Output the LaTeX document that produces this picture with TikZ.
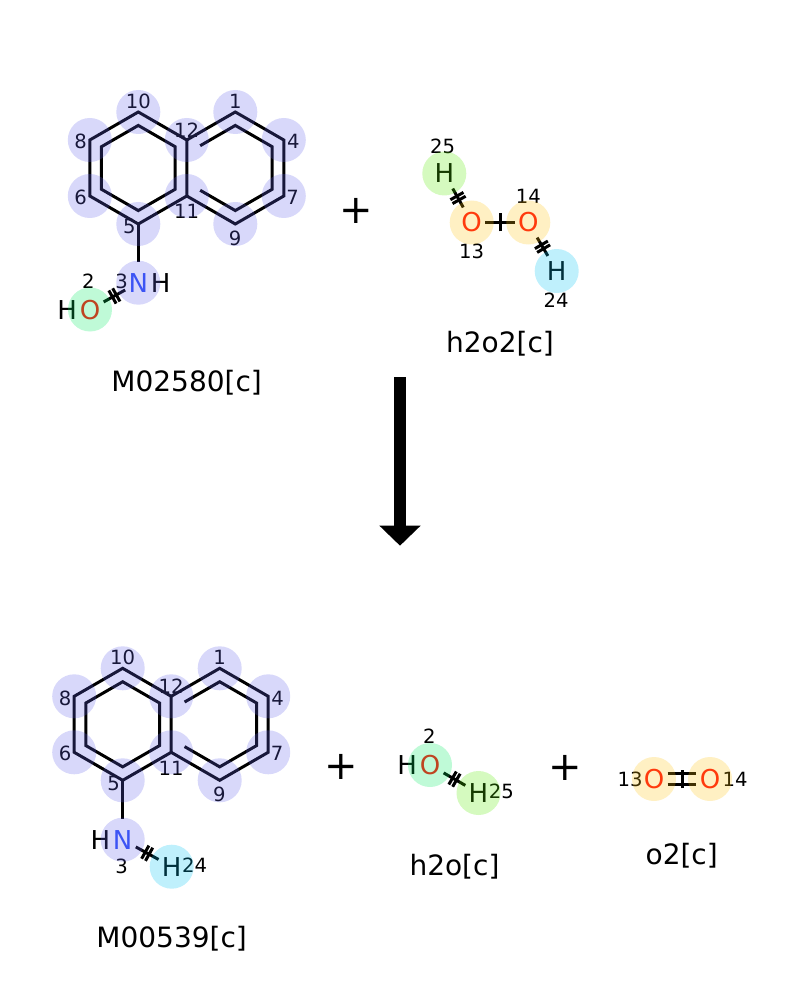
\documentclass[tikz,border=0pt]{standalone}
\usepackage{fontspec}
\setmainfont{DejaVu Sans}
\usetikzlibrary{arrows.meta}
\usetikzlibrary{calc}
\usetikzlibrary{positioning}
\usetikzlibrary{decorations.markings}

\definecolor{ncol}{RGB}{48,80,248}
\definecolor{ocol}{RGB}{255,13,13}
\definecolor{hlc}{RGB}{99,99,235}
\definecolor{hlo}{RGB}{0,235,95}
\definecolor{hlg}{RGB}{87,235,0}
\definecolor{hly}{RGB}{255,195,15}
\definecolor{hlb}{RGB}{0,195,243}

\tikzset{
	bond/.style={line width=1.5pt},
	atom/.style={inner xsep=1.5pt, inner ysep=2.6pt, text height=9.5pt, text depth=0pt, font=\fontsize{13}{13}\selectfont},
	num/.style={inner sep=0pt, text height=7.15pt, text depth=0pt, font=\fontsize{9.8}{9.8}\selectfont},
	cname/.style={inner sep=0pt, text height=10.2pt, text depth=0pt, font=\fontsize{14}{14}\selectfont},
	plussign/.style={inner sep=0pt, text height=14.4pt, text depth=0pt, font=\fontsize{20}{20}\selectfont},
	hl/.style={fill=#1, fill opacity=0.25},
	ticks/.style={postaction={decorate}, decoration={markings, mark=at position 0.5 with {\draw[line width=1.5pt] (-1.1pt,-3.75pt) -- (-1.1pt,3.75pt) (1.1pt,-3.75pt) -- (1.1pt,3.75pt);}}},
	onetick/.style={postaction={decorate}, decoration={markings, mark=at position 0.5 with {\draw[line width=1.5pt] (0pt,-4.5pt) -- (0pt,4.5pt);}}}
}

% naphthalene skeleton, left ring centre at (0,0)
\newcommand{\naphskel}{%
	\coordinate (lc) at (0,0);
	\coordinate (rc) at (97,0);
	\coordinate (a10) at (0,-56);
	\coordinate (a12) at (48.5,-28);
	\coordinate (a11) at (48.5,28);
	\coordinate (a5) at (0,56);
	\coordinate (a6) at (-48.5,28);
	\coordinate (a8) at (-48.5,-28);
	\coordinate (a1) at (97,-56);
	\coordinate (a4) at (145.5,-28);
	\coordinate (a7) at (145.5,28);
	\coordinate (a9) at (97,56);
	\draw[bond] (a10) -- (a12) -- (a11) -- (a5) -- (a6) -- (a8) -- cycle;
	\draw[bond] (a12) -- (a1) -- (a4) -- (a7) -- (a9) -- (a11);
	\draw[bond] ($(lc)!0.76!(a10)$) -- ($(lc)!0.76!(a12)$) -- ($(lc)!0.76!(a11)$) -- ($(lc)!0.76!(a5)$) -- ($(lc)!0.76!(a6)$) -- ($(lc)!0.76!(a8)$) -- cycle;
	\draw[bond, shorten <=1pt, shorten >=1pt] ($(rc)!0.76!(a12)$) -- ($(rc)!0.76!(a1)$) -- ($(rc)!0.76!(a4)$) -- ($(rc)!0.76!(a7)$) -- ($(rc)!0.76!(a9)$) -- ($(rc)!0.76!(a11)$);
	\node[num] (l10) at (0,-67) {10};
	\node[num] (l1) at (97,-67) {1};
	\node[num] (l8) at (-57.6,-26.3) {8};
	\node[num] (l6) at (-57.6,29.3) {6};
	\node[num] (l4) at (155,-26.3) {4};
	\node[num] (l7) at (154.4,29.3) {7};
	\node[num] (l5) at (-9,58.7) {5};
	\node[num] (l11) at (48.4,43.7) {11};
	\node[num] (l12) at (48.4,-38) {12};
	\node[num] (l9) at (96.7,70.3) {9};
}

\begin{document}
\begin{tikzpicture}[x=0.5pt, y=-0.5pt]
	\useasboundingbox (0,0) rectangle (800,1000);

	% M02580[c]
	\begin{scope}[shift={(138.3,168)}, name prefix=t-]
		\naphskel
		\node[atom, text=ncol] (n3) at (0,114.7) {N};
		\node[atom, right=-2pt of n3] (h3) {H};
		\node[atom, text=ocol] (o2) at (-48.3,141.5) {O};
		\node[atom, left=-2pt of o2] (h2) {H};
		\draw[bond, shorten >=2.6pt] (a5) -- (n3);
		\draw[bond, ticks] (n3) -- (o2);
		\node[num] (l3) at (-16.6,113.7) {3};
		\node[num] (l2) at (-50,113.7) {2};
		\foreach \a in {a1,a4,a5,a6,a7,a8,a9,a10,a11,a12,n3}
			\fill[hl=hlc] (\a) circle[radius=11pt];
		\fill[hl=hlo] (o2) circle[radius=11pt];
	\end{scope}
	\node[cname] (nm1) at (186.7,381.5) {M02580[c]};

	\node[plussign] (pl1) at (356.7,209.5) {+};

	% h2o2[c]
	\node[atom] (hp25) at (444.3,173.5) {H};
	\node[atom, text=ocol] (op13) at (471.7,222.5) {O};
	\node[atom, text=ocol] (op14) at (528.3,222.5) {O};
	\node[atom] (hp24) at (556.7,271) {H};
	\draw[bond, ticks] (hp25) -- (op13);
	\draw[bond, onetick] (op13) -- (op14);
	\draw[bond, ticks] (op14) -- (hp24);
	\node[num] (lp25) at (442.7,146.7) {25};
	\node[num] (lp14) at (528.3,196) {14};
	\node[num] (lp13) at (471.7,251.7) {13};
	\node[num] (lp24) at (556,300) {24};
	\fill[hl=hlg] (hp25) circle[radius=11pt];
	\fill[hl=hly] (op13) circle[radius=11pt];
	\fill[hl=hly] (op14) circle[radius=11pt];
	\fill[hl=hlb] (hp24) circle[radius=11pt];
	\node[cname] (nm2) at (500,342.5) {h2o2[c]};

	% reaction arrow
	\coordinate (arrs) at (400,377.3);
	\coordinate (arre) at (400,545.7);
	\draw[line width=5.85pt, -{Triangle[width=20pt,length=10pt]}] (arrs) -- (arre);

	% M00539[c]
	\begin{scope}[shift={(122.7,724.3)}, name prefix=b-]
		\naphskel
		\node[atom, text=ncol] (n3) at (0,115.4) {N};
		\node[atom, left=-2pt of n3] (h3) {H};
		\node[atom] (h24) at (49,142.4) {H};
		\draw[bond, shorten >=2.6pt] (a5) -- (n3);
		\draw[bond, ticks] (n3) -- (h24);
		\node[num] (l3) at (-1,141.7) {3};
		\node[num] (l24) at (72,141.4) {24};
		\foreach \a in {a1,a4,a5,a6,a7,a8,a9,a10,a11,a12,n3}
			\fill[hl=hlc] (\a) circle[radius=11pt];
		\fill[hl=hlb] (h24) circle[radius=11pt];
	\end{scope}
	\node[cname] (nm3) at (171.7,937.3) {M00539[c]};

	\node[plussign] (pl2) at (341,765) {+};

	% h2o[c]
	\node[atom, text=ocol] (ow2) at (430,765) {O};
	\node[atom, left=-2pt of ow2] (hw2) {H};
	\node[atom] (hw25) at (478.5,793) {H};
	\draw[bond, ticks] (ow2) -- (hw25);
	\node[num] (lw2) at (429.3,736.7) {2};
	\node[num] (lw25) at (501.3,791.7) {25};
	\fill[hl=hlo] (ow2) circle[radius=11pt];
	\fill[hl=hlg] (hw25) circle[radius=11pt];
	\node[cname] (nm4) at (454.5,864.8) {h2o[c]};

	\node[plussign] (pl3) at (565,766) {+};

	% o2[c]
	\node[atom, text=ocol] (oo13) at (654,779) {O};
	\node[atom, text=ocol] (oo14) at (710,779) {O};
	\draw[bond] ([yshift=2.65pt]oo13.east) -- ([yshift=2.65pt]oo14.west);
	\draw[bond] ([yshift=-2.65pt]oo13.east) -- ([yshift=-2.65pt]oo14.west);
	\path[onetick] (oo13) -- (oo14);
	\node[num] (lo13) at (630,779.3) {13};
	\node[num] (lo14) at (735,779.3) {14};
	\fill[hl=hly] (oo13) circle[radius=11pt];
	\fill[hl=hly] (oo14) circle[radius=11pt];
	\node[cname] (nm5) at (681.7,854) {o2[c]};
\end{tikzpicture}
\end{document}
